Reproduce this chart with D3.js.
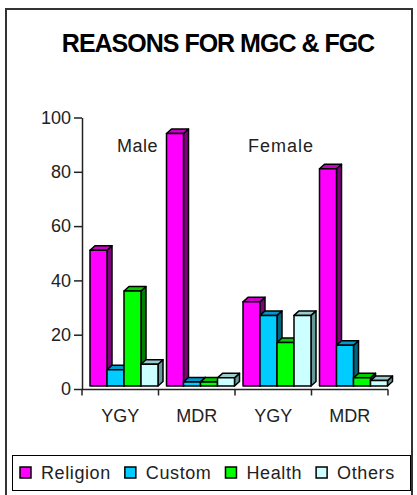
<!DOCTYPE html>
<html>
<head>
<meta charset="utf-8">
<script src="https://cdn.jsdelivr.net/npm/d3@7"></script>
<style>
  html, body { margin: 0; padding: 0; background: #fff; }
  svg { display: block; font-family: "Liberation Sans", Arial, sans-serif; }
</style>
</head>
<body>
<div id="chart"></div>
<script>
// data
const categories = ['Male YGY', 'Male MDR', 'Female YGY', 'Female MDR'];
const categoryLabels = ['YGY', 'MDR', 'YGY', 'MDR'];
const series = ['Religion', 'Custom', 'Health', 'Others'];
const religion = [50, 93, 31, 80];
const custom = [6, 1.5, 26, 15];
const health = [35, 1.5, 16, 3];
const others = [8, 3, 26, 2];
const yTicks = [0, 20, 40, 60, 80, 100];
const groupNames = ['Male', 'Female'];

const values = [religion, custom, health, others];
const colors = {
  Religion: { front: '#ff00ff', top: '#cc00cc', side: '#800080' },
  Custom:   { front: '#00ccff', top: '#0099cc', side: '#006680' },
  Health:   { front: '#00ff00', top: '#00cc00', side: '#008000' },
  Others:   { front: '#ccffff', top: '#99cccc', side: '#669999' }
};

const W = 417, H = 495;
const svg = d3.select('#chart').append('svg').attr('width', W).attr('height', H);

// outer frame
svg.append('rect').attr('x', 6).attr('y', 9).attr('width', 406).attr('height', 492)
  .attr('fill', '#fff').attr('stroke', '#333').attr('stroke-width', 2);

svg.append('text').attr('x', 218).attr('y', 52).attr('text-anchor', 'middle')
  .attr('font-size', 25).attr('font-weight', 'bold').attr('letter-spacing', -1)
  .text('REASONS FOR MGC & FGC');

const x = d3.scaleBand().domain(categories).range([82, 388]);
const xs = d3.scaleBand().domain(series).range([8, 76]);
const y = d3.scaleLinear().domain([0, 100]).range([389, 117.5]);

const dx = 5, dy = 4.5, lift = 3;

// bars
const rows = [];
categories.forEach((c, ci) => series.forEach((s, si) => rows.push({ c, s, v: values[si][ci] })));

const bar = svg.append('g').selectAll('g').data(rows).join('g')
  .attr('stroke', '#000').attr('stroke-width', 1.5).attr('stroke-linejoin', 'round');

bar.each(function(d) {
  const g = d3.select(this);
  const x0 = x(d.c) + xs(d.s), x1 = x0 + xs.bandwidth();
  const yb = y(0) - lift, yt = y(d.v) - lift;
  g.append('path').attr('fill', colors[d.s].side)
    .attr('d', `M${x1},${yt}L${x1 + dx},${yt - dy}L${x1 + dx},${yb - dy}L${x1},${yb}Z`);
  g.append('path').attr('fill', colors[d.s].top)
    .attr('d', `M${x0},${yt}L${x0 + dx},${yt - dy}L${x1 + dx},${yt - dy}L${x1},${yt}Z`);
  g.append('rect').attr('fill', colors[d.s].front)
    .attr('x', x0).attr('y', yt).attr('width', x1 - x0).attr('height', yb - yt);
});

// y axis
const yAxis = svg.append('g').attr('transform', 'translate(82,0)')
  .call(d3.axisLeft(y).tickValues(yTicks).tickSize(8).tickSizeOuter(0).tickPadding(3));
yAxis.select('.domain').attr('stroke', '#222').attr('stroke-width', 1.5);
yAxis.selectAll('.tick line').attr('stroke', '#222').attr('stroke-width', 1.5);
yAxis.selectAll('.tick text').attr('font-size', 18).attr('fill', '#222')
  .attr('font-family', '"Liberation Sans", Arial, sans-serif');

// x axis with ticks at category boundaries
const xAxisG = svg.append('g').attr('transform', 'translate(0,389.5)');
xAxisG.append('line').attr('x1', 82).attr('x2', 388).attr('stroke', '#222').attr('stroke-width', 1.5);
xAxisG.selectAll('line.tk').data(categories.concat(['end'])).join('line').attr('class', 'tk')
  .attr('x1', (d, i) => i < categories.length ? x(d) : x.range()[1])
  .attr('x2', (d, i) => i < categories.length ? x(d) : x.range()[1])
  .attr('y1', 0).attr('y2', 6).attr('stroke', '#222').attr('stroke-width', 1.5);
xAxisG.selectAll('text').data(categories).join('text')
  .attr('x', d => x(d) + x.bandwidth() / 2).attr('y', 32)
  .attr('text-anchor', 'middle').attr('font-size', 18).attr('fill', '#222')
  .text((d, i) => categoryLabels[i]);

// group labels
svg.append('text').attr('x', 117).attr('y', 152).attr('font-size', 18).attr('fill', '#222')
  .attr('letter-spacing', 0.5).text(groupNames[0]);
svg.append('text').attr('x', 248).attr('y', 152).attr('font-size', 18).attr('fill', '#222')
  .attr('letter-spacing', 1).text(groupNames[1]);

// legend
svg.append('rect').attr('x', 12.5).attr('y', 455.5).attr('width', 398).attr('height', 35)
  .attr('fill', '#fff').attr('stroke', '#000').attr('stroke-width', 1);
let lx = 20;
series.forEach(s => {
  svg.append('rect').attr('x', lx).attr('y', 467).attr('width', 11).attr('height', 11)
    .attr('fill', colors[s].front).attr('stroke', '#000').attr('stroke-width', 1.5);
  const t = svg.append('text').attr('x', lx + 21).attr('y', 479).attr('font-size', 18)
    .attr('letter-spacing', 0.6).attr('fill', '#222').text(s);
  lx += 21 + t.node().getComputedTextLength() + 14;
});
</script>
</body>
</html>
